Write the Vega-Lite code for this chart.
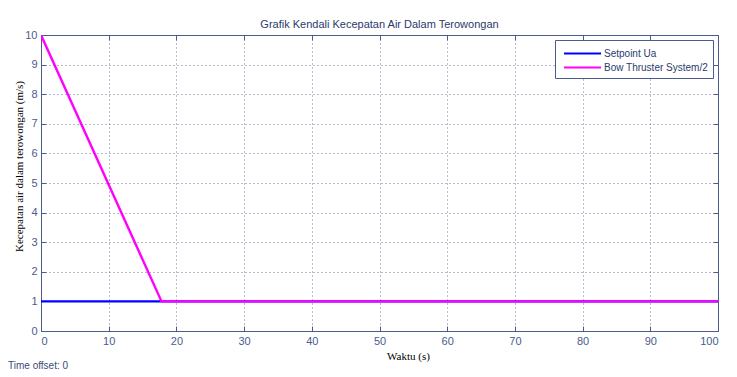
{
  "$schema": "https://vega.github.io/schema/vega-lite/v6.json",
  "width": 677,
  "height": 296,
  "autosize": {"type": "none"},
  "padding": {"left": 41, "top": 35, "right": 19, "bottom": 46},
  "background": "white",
  "title": {
    "text": "Time offset:  0",
    "orient": "bottom",
    "anchor": "start",
    "frame": "group",
    "dx": -33,
    "offset": 0,
    "font": "Liberation Sans",
    "fontSize": 10,
    "fontWeight": "normal",
    "color": "#3c4a78"
  },
  "data": {
    "values": [
      {"t": 0, "v": 1, "series": "Setpoint Ua"},
      {"t": 100, "v": 1, "series": "Setpoint Ua"},
      {"t": 0, "v": 10, "series": "Bow Thruster System/2"},
      {"t": 17.8, "v": 1, "series": "Bow Thruster System/2"},
      {"t": 100, "v": 1, "series": "Bow Thruster System/2"}
    ]
  },
  "layer": [
    {
      "mark": {"type": "line", "strokeWidth": 2.4, "clip": true},
      "encoding": {
        "x": {
          "field": "t", "type": "quantitative",
          "scale": {"domain": [0, 100], "nice": false},
          "axis": {
            "orient": "bottom", "title": "Waktu (s)", "values": [0,10,20,30,40,50,60,70,80,90,100],
            "grid": true, "gridDash": [1, 3], "gridColor": "#5a6896", "gridOpacity": 0.9,
            "tickSize": -5, "tickColor": "#4b5b8c", "domainColor": "#4b5b8c",
            "labelColor": "#4b5b8c", "labelFont": "Liberation Sans", "labelFontSize": 11, "labelPadding": 9,
            "titleFont": "Liberation Serif", "titleFontSize": 11, "titleFontWeight": "normal", "titleColor": "#000000",
            "titleX": 367, "titleY": 19, "titleBaseline": "top"
          }
        },
        "y": {
          "field": "v", "type": "quantitative",
          "scale": {"domain": [0, 10], "nice": false},
          "axis": {
            "orient": "left", "title": "Kecepatan air dalam terowongan (m/s)", "values": [0,1,2,3,4,5,6,7,8,9,10],
            "grid": true, "gridDash": [1, 3], "gridColor": "#5a6896", "gridOpacity": 0.9,
            "tickSize": -5, "tickColor": "#4b5b8c", "domainColor": "#4b5b8c",
            "labelColor": "#4b5b8c", "labelFont": "Liberation Sans", "labelFontSize": 11, "labelPadding": 9,
            "titleFont": "Liberation Serif", "titleFontSize": 11, "titleFontWeight": "normal", "titleColor": "#000000",
            "titleX": -17, "titleY": 131, "titleAngle": -90, "titleBaseline": "bottom", "titleAlign": "center"
          }
        },
        "color": {
          "field": "series", "type": "nominal",
          "scale": {"domain": ["Setpoint Ua", "Bow Thruster System/2"], "range": ["#0000ff", "#ff00ff"]},
          "legend": {
            "orient": "none", "legendX": 514, "legendY": 5, "title": null,
            "fillColor": "white", "strokeColor": "#4b5b8c", "padding": 5,
            "symbolType": "M-2.5,0H2.5", "symbolSize": 219, "symbolStrokeWidth": 2,
            "symbolOffset": 14,
            "labelFont": "Liberation Sans", "labelFontSize": 10, "labelColor": "#2b3b6b", "labelOffset": 13,
            "rowPadding": 0
          }
        }
      }
    },
    {
      "mark": {"type": "line", "opacity": 0},
      "encoding": {
        "x": {
          "field": "t", "type": "quantitative",
          "scale": {"domain": [0, 100], "nice": false},
          "axis": {
            "orient": "top", "title": "Grafik Kendali Kecepatan Air Dalam Terowongan", "values": [0,10,20,30,40,50,60,70,80,90,100],
            "labels": false, "grid": false,
            "tickSize": -5, "tickColor": "#4b5b8c", "domainColor": "#4b5b8c",
            "titleFont": "Liberation Sans", "titleFontSize": 11, "titleFontWeight": "normal", "titleColor": "#2b3b6b",
            "titleX": 338, "titleY": -6, "titleBaseline": "bottom", "titleAlign": "center"
          }
        },
        "y": {
          "field": "v", "type": "quantitative",
          "scale": {"domain": [0, 10], "nice": false},
          "axis": {
            "orient": "right", "title": null, "values": [0,1,2,3,4,5,6,7,8,9,10],
            "labels": false, "grid": false,
            "tickSize": -5, "tickColor": "#4b5b8c", "domainColor": "#4b5b8c"
          }
        }
      }
    }
  ],
  "resolve": {"scale": {"x": "independent", "y": "independent"}},
  "config": {"view": {"stroke": null}}
}
